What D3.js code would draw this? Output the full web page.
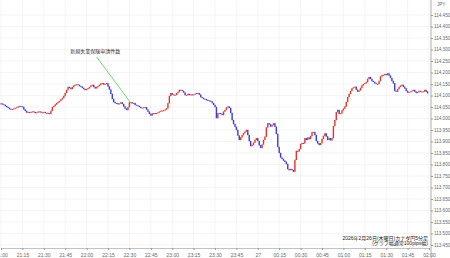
<!DOCTYPE html>
<html>
<head>
<meta charset="utf-8">
<script src="https://cdn.jsdelivr.net/npm/d3@7"></script>
<style>
  body { margin: 0; background: #fff; }
  svg { display: block; font-family: "Liberation Sans", "Noto Sans CJK JP", sans-serif; }
  .grid line { stroke: #ececec; stroke-width: 0.6; }
  .axis text { fill: #666; }
  .axis line, .axis path { stroke: #999; }
</style>
</head>
<body>
<div id="app"></div>
<script>
// 1-minute closes, CAD/JPY, 21:00 -> 01:59
const closes = [
  114.065, 114.061, 114.059, 114.054, 114.050, 114.046, 114.041, 114.039, 114.041, 114.043,
  114.046, 114.048, 114.052, 114.054, 114.052, 114.050, 114.039, 114.033, 114.026, 114.028,
  114.026, 114.028, 114.030, 114.028, 114.024, 114.026, 114.030, 114.030, 114.026, 114.026,
  114.028, 114.024, 114.024, 114.022, 114.020, 114.033, 114.050, 114.054, 114.061, 114.067,
  114.072, 114.076, 114.083, 114.089, 114.098, 114.111, 114.124, 114.137, 114.133, 114.128,
  114.137, 114.143, 114.146, 114.148, 114.146, 114.141, 114.138, 114.133, 114.128, 114.124,
  114.128, 114.131, 114.137, 114.143, 114.146, 114.137, 114.131, 114.137, 114.141, 114.146,
  114.152, 114.153, 114.148, 114.150, 114.153, 114.139, 114.126, 114.107, 114.085, 114.072,
  114.067, 114.066, 114.062, 114.065, 114.070, 114.063, 114.052, 114.043, 114.037, 114.050,
  114.070, 114.070, 114.066, 114.067, 114.059, 114.057, 114.054, 114.050, 114.046, 114.046,
  114.048, 114.049, 114.039, 114.030, 114.020, 114.013, 114.022, 114.023, 114.020, 114.023,
  114.026, 114.030, 114.033, 114.034, 114.035, 114.039, 114.044, 114.066, 114.098, 114.110,
  114.104, 114.102, 114.102, 114.110, 114.115, 114.124, 114.124, 114.120, 114.113, 114.102,
  114.102, 114.107, 114.102, 114.104, 114.102, 114.104, 114.107, 114.110, 114.110, 114.104,
  114.093, 114.089, 114.085, 114.084, 114.080, 114.078, 114.077, 114.074, 114.067, 114.059,
  114.050, 114.002, 114.022, 114.023, 114.020, 114.015, 114.030, 114.037, 114.048, 114.052,
  114.046, 114.024, 113.993, 113.976, 113.964, 113.950, 113.926, 113.907, 113.918, 113.928,
  113.937, 113.943, 113.950, 113.928, 113.902, 113.880, 113.885, 113.895, 113.907, 113.914,
  113.902, 113.883, 113.872, 113.887, 113.907, 113.921, 113.961, 113.979, 113.974, 113.965,
  113.972, 113.979, 113.964, 113.933, 113.876, 113.850, 113.830, 113.824, 113.817, 113.812,
  113.802, 113.780, 113.776, 113.780, 113.776, 113.769, 113.820, 113.859, 113.857, 113.867,
  113.889, 113.893, 113.892, 113.914, 113.907, 113.917, 113.911, 113.924, 113.941, 113.941,
  113.928, 113.902, 113.892, 113.885, 113.893, 113.911, 113.924, 113.935, 113.922, 113.907,
  113.914, 113.905, 113.915, 113.967, 113.993, 114.028, 114.037, 114.020, 114.022, 114.035,
  114.043, 114.052, 114.072, 114.093, 114.107, 114.120, 114.131, 114.135, 114.138, 114.125,
  114.117, 114.122, 114.133, 114.144, 114.150, 114.153, 114.159, 114.172, 114.180, 114.172,
  114.163, 114.159, 114.153, 114.150, 114.150, 114.163, 114.183, 114.189, 114.189, 114.193,
  114.189, 114.196, 114.187, 114.176, 114.163, 114.153, 114.120, 114.117, 114.128, 114.137,
  114.143, 114.146, 114.138, 114.131, 114.120, 114.113, 114.115, 114.117, 114.120, 114.124,
  114.117, 114.111, 114.115, 114.120, 114.117, 114.117, 114.117, 114.124, 114.117, 114.110
];
const firstOpen = 114.063;

const xTickLabels = [
  "21:00", "21:15", "21:30", "21:45", "22:00", "22:15", "22:30", "22:45",
  "23:00", "23:15", "23:30", "23:45", "27", "00:15", "00:30", "00:45",
  "01:00", "01:15", "01:30", "01:45", "02:00"
];
const yTickValues = [
  113.45, 113.50, 113.55, 113.60, 113.65, 113.70, 113.75, 113.80, 113.85, 113.90, 113.95,
  114.00, 114.05, 114.10, 114.15, 114.20, 114.25, 114.30, 114.35, 114.40, 114.45
];

const annotationText = "新規失業保険申請件数";
const annotationMinute = 90;         // candle the news line points at
const annotationLabelMinute = 66;    // where the label sits
const annotationLabelPrice = 114.285;
const footnotes = ["2026年2月26日(木曜日)カナダ円5分足", "(グラフ幅通常100pips幅)"];

const width = 450, height = 258;
const plot = { left: 0, right: 431, top: 0, bottom: 248 };

const start = new Date(2026, 1, 26, 21, 0);
const end = d3.timeMinute.offset(start, 300);

const candles = closes.map((c, i) => ({
  t: d3.timeMinute.offset(start, i),
  open: i === 0 ? firstOpen : closes[i - 1],
  close: c
}));

const x = d3.scaleTime().domain([start, end]).range([1, 429]);
const y = d3.scaleLinear().domain([113.45, 114.45]).range([245, 15]);

const svg = d3.select("#app")
  .append("svg")
    .attr("width", width)
    .attr("height", height);

// grid
const xTickValues = xTickLabels.map((d, i) => d3.timeMinute.offset(start, i * 15));

svg.append("g")
    .attr("class", "grid")
  .selectAll("line.h")
  .data(yTickValues)
  .join("line")
    .attr("x1", plot.left)
    .attr("x2", plot.right)
    .attr("y1", d => y(d))
    .attr("y2", d => y(d));

svg.append("g")
    .attr("class", "grid")
  .selectAll("line.v")
  .data(xTickValues)
  .join("line")
    .attr("x1", d => x(d))
    .attr("x2", d => x(d))
    .attr("y1", plot.top)
    .attr("y2", plot.bottom);

// candles
svg.append("clipPath")
    .attr("id", "clip")
  .append("rect")
    .attr("x", plot.left)
    .attr("y", plot.top)
    .attr("width", plot.right - plot.left)
    .attr("height", plot.bottom - plot.top);

const body = svg.append("g")
    .attr("clip-path", "url(#clip)");

body.selectAll("rect")
  .data(candles)
  .join("rect")
    .attr("x", d => x(d.t) - 0.7)
    .attr("width", 1.4)
    .attr("y", d => y(Math.max(d.open, d.close)) - 0.2)
    .attr("height", d => Math.max(1, Math.abs(y(d.open) - y(d.close)) + 0.4))
    .attr("fill", d => d.close >= d.open ? "#e0342c" : "#3b3bd6");

// x axis
svg.append("g")
    .attr("class", "axis")
    .attr("transform", `translate(0,${plot.bottom})`)
    .call(d3.axisBottom(x)
      .tickValues(xTickValues)
      .tickFormat((d, i) => xTickLabels[i])
      .tickSize(2)
      .tickSizeOuter(0))
    .call(g => g.select(".domain").attr("stroke-width", 0.6))
    .selectAll("text")
      .attr("font-size", 5)
      .attr("dy", "0.75em");

// y axis on the right
svg.append("g")
    .attr("class", "axis")
    .attr("transform", `translate(${plot.right},0)`)
    .call(d3.axisRight(y)
      .tickValues(yTickValues)
      .tickFormat(d3.format(".3f"))
      .tickSize(2)
      .tickSizeOuter(0))
    .call(g => g.select(".domain").remove())
    .selectAll("text")
      .attr("font-size", 4.6)
      .attr("x", 3);

svg.append("line")
    .attr("x1", plot.right).attr("x2", plot.right)
    .attr("y1", 0).attr("y2", height)
    .attr("stroke", "#999")
    .attr("stroke-width", 0.8);

svg.append("text")
    .attr("x", plot.right + 6)
    .attr("y", 6)
    .attr("font-size", 4.6)
    .attr("fill", "#666")
    .text("JPY");

// news annotation
const target = candles[annotationMinute];
svg.append("line")
    .attr("x1", x(d3.timeMinute.offset(start, annotationLabelMinute + 1)))
    .attr("y1", y(annotationLabelPrice) + 4)
    .attr("x2", x(target.t) + 1)
    .attr("y2", y(target.close))
    .attr("stroke", "#5fd35f")
    .attr("stroke-width", 0.9);

svg.append("text")
    .attr("x", x(d3.timeMinute.offset(start, annotationLabelMinute)))
    .attr("y", y(annotationLabelPrice))
    .attr("text-anchor", "middle")
    .attr("font-size", 5)
    .attr("fill", "#333")
    .text(annotationText);

// footnote
svg.selectAll("text.foot")
  .data(footnotes)
  .join("text")
    .attr("class", "foot")
    .attr("x", 428)
    .attr("y", (d, i) => 239.5 + i * 5.8)
    .attr("text-anchor", "end")
    .attr("font-size", 5)
    .attr("fill", "#222")
    .text(d => d);
</script>
</body>
</html>
